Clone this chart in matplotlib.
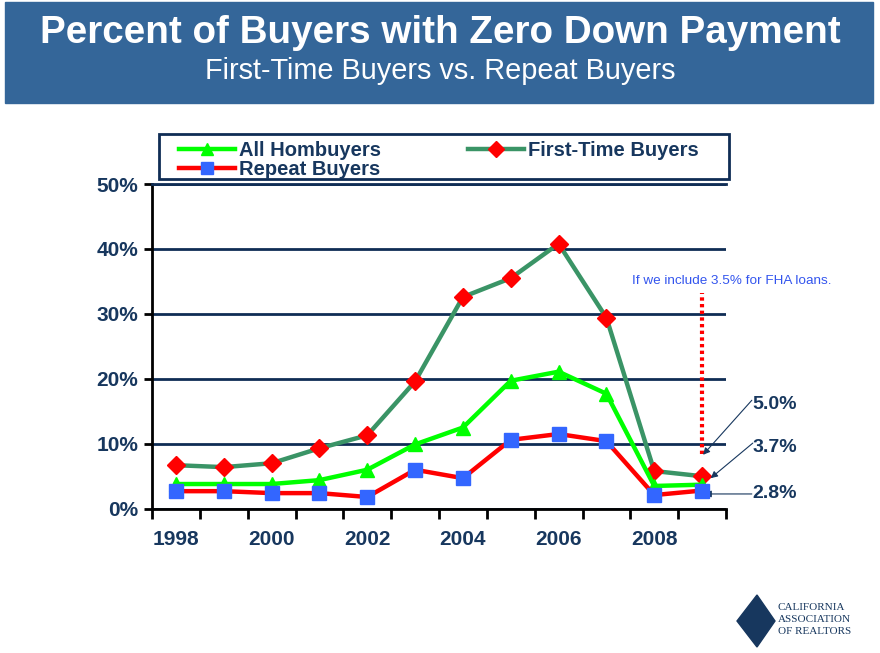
import numpy as np
import matplotlib.pyplot as plt
from matplotlib.patches import Rectangle, Polygon

plt.rcParams['font.family'] = ['Liberation Sans', 'DejaVu Sans']

# data (percent)
years = [1998, 1999, 2000, 2001, 2002, 2003, 2004, 2005, 2006, 2007, 2008, 2009]
first_time = [6.7, 6.4, 7.0, 9.3, 11.3, 19.6, 32.6, 35.5, 40.8, 29.4, 5.8, 5.0]
all_buyers = [3.8, 3.8, 3.8, 4.4, 6.0, 9.9, 12.5, 19.7, 21.1, 17.7, 3.5, 3.7]
repeat = [2.7, 2.7, 2.4, 2.4, 1.8, 6.0, 4.7, 10.6, 11.5, 10.4, 2.1, 2.8]
tick_years = [1998, 2000, 2002, 2004, 2006, 2008]
yticks = [0, 10, 20, 30, 40, 50]
fha_range = [8.5, 33.2]
end_labels = ['5.0%', '3.7%', '2.8%']

navy = '#17375E'
W, H = 880, 653
fig = plt.figure(figsize=(W / 100, H / 100), dpi=100)

# title banner
fig.patches.append(Rectangle((5 / W, 1 - 103 / H), 868 / W, 101 / H,
                             transform=fig.transFigure, color='#346699', zorder=0))
fig.text(0.5, 1 - 33 / H, 'Percent of Buyers with Zero Down Payment', color='white',
         fontsize=27.8, fontweight='bold', ha='center', va='center')
fig.text(0.5, 1 - 71 / H, 'First-Time Buyers vs. Repeat Buyers', color='white',
         fontsize=20.8, ha='center', va='center')

ax = fig.add_axes([152 / W, 1 - 508.7 / H, (726 - 152) / W, (508.7 - 184) / H])
x = np.arange(len(years))

l1, = ax.plot(x, first_time, color='#3A9466', lw=3.2, marker='D', ms=9,
              mfc='red', mec='red', zorder=3)
l2, = ax.plot(x, all_buyers, color='#00FF00', lw=3.2, marker='^', ms=10,
              mfc='#00FF00', mec='#00FF00', zorder=4)
l3, = ax.plot(x, repeat, color='red', lw=3.2, marker='s', ms=10,
              mfc='#3366FF', mec='#3366FF', zorder=5)

ax.set_xlim(-0.5, len(years) - 0.5)
ax.set_ylim(0, 50)

idx = [years.index(y) for y in tick_years]
ax.set_xticks(idx)
ax.set_xticklabels([str(y) for y in tick_years])
ax.set_xticks(np.arange(-0.5, len(years)), minor=True)
ax.tick_params(axis='x', which='major', length=0, pad=15, labelsize=15, labelcolor=navy)
ax.tick_params(axis='x', which='minor', length=7, width=2, direction='out', color='black')
ax.set_yticks(yticks)
ax.set_yticklabels([f'{v}%' for v in yticks])
ax.tick_params(axis='y', length=6, width=2, direction='out', color='black',
               labelsize=15, labelcolor=navy, pad=4)
for lab in ax.get_xticklabels() + ax.get_yticklabels():
    lab.set_fontweight('bold')

ax.grid(axis='y', color='#0F2D55', lw=2)
ax.set_axisbelow(True)
ax.spines['right'].set_visible(False)
ax.spines['top'].set_color('#0F2D55')
ax.spines['top'].set_linewidth(2)
ax.spines['left'].set_linewidth(2)
ax.spines['bottom'].set_linewidth(2)

# FHA dotted line and note
ax.plot([x[-1], x[-1]], fha_range, color='red', lw=3, ls=(0, (0.8, 0.8)), zorder=2)
ax.text(11.61, 35.1, 'If we include 3.5% for FHA loans.', color='#3355EE',
        fontsize=9.7, ha='center', va='center', clip_on=False)

# end-point labels with arrows
label_pos = [(12.05, 16.1), (12.05, 9.5), (12.05, 2.3)]
arrow_from = [(12.04, 16.7), (12.06, 10.1), (12.04, 2.27)]
arrow_to = [(11.02, 8.3), (11.18, 4.7), (11.05, 2.27)]
for lab, p, a, b in zip(end_labels, label_pos, arrow_from, arrow_to):
    ax.text(p[0], p[1], lab, color=navy, fontsize=14, fontweight='bold',
            ha='left', va='center', clip_on=False)
    ax.annotate('', xy=b, xytext=a, annotation_clip=False,
                arrowprops=dict(arrowstyle='-|>', color=navy, lw=0.8,
                                mutation_scale=10, shrinkA=0, shrinkB=0))

# legend: frame drawn separately so the padding can match
fig.patches.append(Rectangle((159 / W, 1 - 179 / H), 570 / W, 45 / H,
                             transform=fig.transFigure, facecolor='white',
                             edgecolor='#0F2D55', lw=2, zorder=1))
leg = fig.legend([l2, l3, l1], ['All Hombuyers', 'Repeat Buyers', 'First-Time Buyers'],
                 ncol=2, loc='upper left', frameon=False,
                 bbox_to_anchor=(179 / W, 1 - 141 / H),
                 prop={'weight': 'bold', 'size': 14.5},
                 handlelength=2.8, handletextpad=0.2, labelspacing=0.0,
                 columnspacing=4.3, borderpad=0, borderaxespad=0,
                 markerscale=0.9)
leg.set_zorder(2)
for t in leg.get_texts():
    t.set_color(navy)

# logo
fig.patches.append(Polygon([(737 / W, 1 - 621 / H), (757 / W, 1 - 595 / H),
                            (775 / W, 1 - 621 / H), (757 / W, 1 - 647 / H)],
                           closed=True, transform=fig.transFigure, color='#17375E'))
for i, s in enumerate(['CALIFORNIA', 'ASSOCIATION', 'OF REALTORS']):
    fig.text(778 / W, 1 - (607 + 12 * i) / H, s, color='#17375E', fontsize=8,
             family=['Liberation Serif', 'DejaVu Serif'], va='center', ha='left')

fig.savefig('out.png', dpi=100, facecolor='white')
